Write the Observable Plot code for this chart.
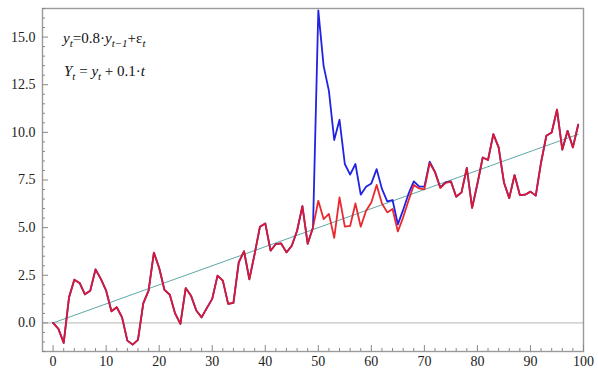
<!DOCTYPE html>
<html><head><meta charset="utf-8">
<script src="https://cdn.jsdelivr.net/npm/d3@7"></script>
<script src="https://cdn.jsdelivr.net/npm/@observablehq/plot@0.6"></script>
<style>
body{margin:0;background:#fff}
#chart{position:relative;width:598px;height:371px}
#chart svg, #chart svg text, #chart svg g, #chart svg tspan{font-family:"Liberation Serif", "Times New Roman", Times, "DejaVu Serif", serif !important;}
</style>
</head><body><div id="chart"></div>
<script>
// time index t = 0..99
const tIndex = d3.range(0, 100);
// Y_t without shock (red)
const redValues = [0, -0.31, -1.05, 1.34, 2.27, 2.1, 1.5, 1.69, 2.81, 2.31,
  1.69, 0.61, 0.82, 0.29, -0.93, -1.14, -0.89, 1.03, 1.69, 3.69,
  2.88, 1.73, 1.48, 0.5, -0.05, 1.83, 1.43, 0.65, 0.29, 0.79,
  1.26, 2.48, 2.22, 1.0, 1.05, 3.18, 3.76, 2.29, 3.62, 5.05,
  5.22, 3.79, 4.14, 4.17, 3.7, 4.05, 4.84, 6.13, 4.15, 5.01,
  6.41, 5.45, 5.72, 4.46, 6.59, 5.05, 5.09, 6.27, 5.05, 5.89,
  6.32, 7.24, 6.27, 5.8, 5.98, 4.8, 5.54, 6.41, 7.24, 7.06,
  7.01, 8.4, 7.9, 7.08, 7.35, 7.42, 6.62, 6.85, 8.13, 6.04,
  7.3, 8.68, 8.55, 9.91, 9.21, 7.37, 6.55, 7.76, 6.71, 6.73,
  6.89, 6.68, 8.42, 9.82, 9.99, 11.19, 9.09, 10.08, 9.21, 10.4];
// series with shock at t = 50 (blue), values from t = 50 to 99; identical to red before
const blueFrom50 = [16.4, 13.49, 12.18, 9.6, 10.66, 8.34, 7.78, 8.34, 6.73, 7.15,
  7.32, 8.07, 7.03, 6.38, 6.45, 5.17, 5.93, 6.77, 7.43, 7.16,
  7.15, 8.46, 7.93, 7.11, 7.37, 7.43, 6.62, 6.85, 8.13, 6.04,
  7.3, 8.68, 8.55, 9.91, 9.21, 7.37, 6.55, 7.76, 6.71, 6.73,
  6.89, 6.68, 8.42, 9.82, 9.99, 11.19, 9.09, 10.08, 9.21, 10.4];
const blueValues = redValues.slice(0, 50).concat(blueFrom50);
// trend 0.1·t
const trendT = [0, 99];
const trendV = [0, 9.9];
// ticks
const xMajor = [0, 10, 20, 30, 40, 50, 60, 70, 80, 90, 100];
const xMinor = d3.range(0, 101, 2).filter(d => d % 10 !== 0);
const yMajor = [0, 2.5, 5, 7.5, 10, 12.5, 15];
const yMinor = d3.range(-1.5, 16.51, 0.5).filter(d => Math.abs(d / 2.5 - Math.round(d / 2.5)) > 1e-6);

const red = tIndex.map((t, i) => ({t, v: redValues[i]}));
const blue = tIndex.map((t, i) => ({t, v: blueValues[i]}));
const trend = trendT.map((t, i) => ({t, v: trendV[i]}));

const plot = Plot.plot({
  width: 598, height: 371,
  marginLeft: 42, marginRight: 15, marginTop: 8, marginBottom: 20,
  x: {domain: [-2, 100]},
  y: {domain: [-1.5, 16.5]},
  style: {fontFamily: "Liberation Serif, serif", fontSize: "14px", background: "#fff", color: "#222"},
  marks: [
    Plot.ruleY([0], {stroke: "#b4b4b4", strokeWidth: 1}),
    Plot.line(trend, {x: "t", y: "v", stroke: "#5ea8a8", strokeWidth: 1}),
    Plot.line(blue, {x: "t", y: "v", stroke: "#2222e4", strokeWidth: 1.8}),
    Plot.line(red, {x: "t", y: "v", stroke: "#e81820", strokeOpacity: 0.93, strokeWidth: 1.8}),
    Plot.frame({stroke: "#9a9a9a", strokeWidth: 1.4}),
    Plot.axisX({ticks: xMajor, tickSize: 6, insetBottom: 6, tickFormat: () => "", stroke: "#888", label: null}),
    Plot.axisX({ticks: xMinor, tickSize: 3, insetBottom: 3, tickFormat: () => "", stroke: "#888", label: null}),
    Plot.axisX({ticks: xMajor, tickSize: 0, tickPadding: 5, tickFormat: d => String(d), fontSize: 14, fill: "#222", label: null}),
    Plot.axisY({ticks: yMajor, tickSize: 6, insetLeft: 6, tickFormat: () => "", stroke: "#888", label: null}),
    Plot.axisY({ticks: yMinor, tickSize: 3, insetLeft: 3, tickFormat: () => "", stroke: "#888", label: null}),
    Plot.axisY({ticks: yMajor, tickSize: 0, tickPadding: 7, tickFormat: d3.format(".1f"), fontSize: 14, fill: "#222", label: null})
  ]
});
document.getElementById("chart").appendChild(plot);

// formula annotations
const svg = d3.select(plot);
const font = "Liberation Serif, serif";
function sub(sel, s) {
  sel.append("tspan").attr("font-style", "italic").attr("font-size", 11).attr("dy", 4).text(s);
}
const t1 = svg.append("text").attr("x", 63).attr("y", 43).attr("text-anchor", "start")
  .attr("font-family", font).attr("font-size", 15).attr("fill", "#111");
t1.append("tspan").attr("font-style", "italic").text("y");
sub(t1, "t");
t1.append("tspan").attr("dy", -4).text("=0.8·");
t1.append("tspan").attr("font-style", "italic").text("y");
sub(t1, "t−1");
t1.append("tspan").attr("dy", -4).text("+ε");
sub(t1, "t");

const t2 = svg.append("text").attr("x", 64).attr("y", 76).attr("text-anchor", "start")
  .attr("font-family", font).attr("font-size", 15).attr("fill", "#111");
t2.append("tspan").attr("font-style", "italic").text("Y");
sub(t2, "t");
t2.append("tspan").attr("dy", -4).text(" = ");
t2.append("tspan").attr("font-style", "italic").text("y");
sub(t2, "t");
t2.append("tspan").attr("dy", -4).text(" + 0.1·");
t2.append("tspan").attr("font-style", "italic").text("t");
</script>
</body></html>
